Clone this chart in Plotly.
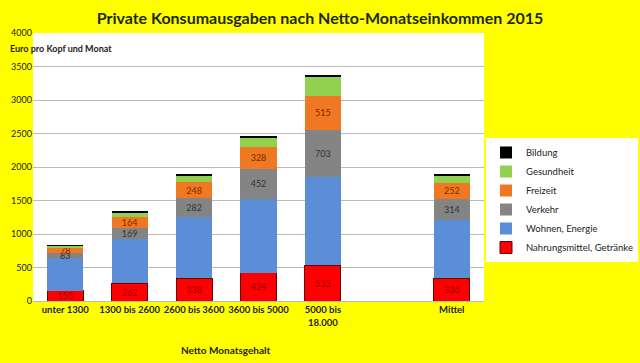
import plotly.graph_objects as go

categories = ["unter 1300", "1300 bis 2600", "2600 bis 3600", "3600 bis 5000",
              "5000 bis<br>18.000", " ", "Mittel"]
nahrung = [155, 262, 338, 424, 533, None, 336]
wohnen = [480, 665, 912, 1100, 1315, None, 866]
verkehr = [83, 169, 282, 452, 703, None, 314]
freizeit = [78, 164, 248, 328, 515, None, 252]
gesundheit = [30, 60, 95, 130, 275, None, 100]
bildung = [5, 12, 15, 15, 38, None, 15]

y_ticks = [0, 500, 1000, 1500, 2000, 2500, 3000, 3500, 4000]

FONT = "Lato"
L, R, T, B = 33, 484, 33, 301
PW, PH = R - L, B - T

def lbl(vals):
    return ["" if v is None else str(v) for v in vals]

fig = go.Figure()
series = [
    ("Nahrungsmittel, Getränke", nahrung, "#FF0000", dict(color="#6a0000", width=1), lbl(nahrung), "#9B0000"),
    ("Wohnen, Energie", wohnen, "#5B8ED6", dict(width=0), None, None),
    ("Verkehr", verkehr, "#848484", dict(width=0), lbl(verkehr), "#333333"),
    ("Freizeit", freizeit, "#F07822", dict(width=0), lbl(freizeit), "#7a2a00"),
    ("Gesundheit", gesundheit, "#92D050", dict(width=0), None, None),
    ("Bildung", bildung, "#000000", dict(width=0), None, None),
]
for name, vals, color, line, text, tcolor in series:
    if text is not None:
        kw = dict(text=text, textposition="inside", insidetextanchor="middle", textangle=0,
                  constraintext="none",
                  textfont=dict(family=FONT, size=9, color=tcolor), texttemplate="%{text}")
    else:
        kw = dict(textposition="none")
    fig.add_trace(go.Bar(x=categories, y=vals, name=name,
                         marker=dict(color=color, line=line),
                         hoverinfo="skip", **kw))

fig.update_layout(
    barmode="stack",
    bargap=0.44,
    width=640, height=363,
    paper_bgcolor="#FFFF00",
    plot_bgcolor="#FFFFFF",
    margin=dict(l=L, r=640 - R, t=T, b=363 - B, autoexpand=False),
    font=dict(family=FONT, color="#222222"),
    uniformtext=dict(minsize=8, mode="show"),
    title=dict(text="<b>Private Konsumausgaben nach Netto-Monatseinkommen 2015</b>",
               x=0.5, xanchor="center", y=1 - 18 / 363, yanchor="middle",
               font=dict(family=FONT, size=16, color="#1c2a14")),
    legend=dict(traceorder="reversed", xref="container", yref="container",
                x=486 / 640, xanchor="left", y=1 - 138 / 363, yanchor="top",
                bgcolor="#FFFFFF", font=dict(family=FONT, size=9.5, color="#222222"),
                itemwidth=30, tracegroupgap=0),
    xaxis=dict(type="category", categoryorder="array", categoryarray=categories,
               tickfont=dict(family=FONT, size=9.5, color="#222222"), tickangle=0,
               showline=True, linecolor="#BBBBBB", ticks="", automargin=False),
    yaxis=dict(range=[0, 4000], tickvals=y_ticks, showgrid=True, gridcolor="#BBBBBB",
               tickfont=dict(family=FONT, size=9, color="#222222"), zeroline=False,
               automargin=False),
    annotations=[
        dict(text="<b>Euro pro Kopf und Monat</b>", x=(8 - L) / PW, xref="paper",
             y=(B - 48) / PH, yref="paper",
             xanchor="left", yanchor="middle", showarrow=False,
             font=dict(family=FONT, size=9, color="#222222")),
        dict(text="<b>Netto Monatsgehalt</b>", x=(225 - L) / PW, xref="paper",
             y=(B - 350) / PH, yref="paper",
             xanchor="center", yanchor="middle", showarrow=False,
             font=dict(family=FONT, size=10, color="#222222")),
    ],
)
fig.update_xaxes(tickprefix="<b>", ticksuffix="</b>")
fig.update_yaxes(tickprefix="<b>", ticksuffix="</b>")

fig.write_html("out.html", config={"displayModeBar": False},
               post_script="document.body.style.margin='0';document.body.style.padding='0';")
